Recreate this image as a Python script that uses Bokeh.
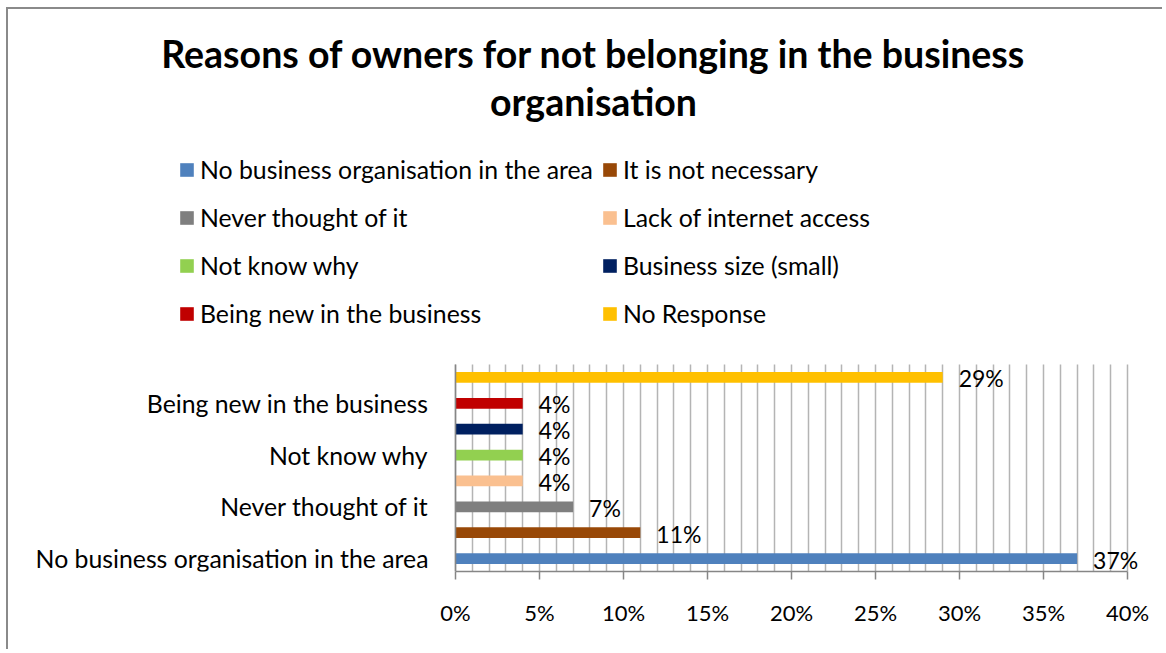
from bokeh.plotting import figure
from bokeh.models import (ColumnDataSource, Range1d, FixedTicker, PrintfTickFormatter,
                          Label, LabelSet, Legend, LegendItem, Grid)
from bokeh.core.properties import value
from bokeh.embed import file_html
from bokeh.resources import INLINE

# ---- data ----
title_lines = ["Reasons of owners for not belonging in the business", "organisation"]
categories = ["No business organisation in the area", "It is not necessary",
              "Never thought of it", "Lack of internet access", "Not know why",
              "Business size (small)", "Being new in the business", "No Response"]
values = [37, 11, 7, 4, 4, 4, 4, 29]
colors = ["#4F81BD", "#984807", "#7F7F7F", "#FAC090", "#92D050",
          "#002060", "#C00000", "#FFC000"]
x_ticks = [0, 5, 10, 15, 20, 25, 30, 35, 40]
grid_ticks = list(range(0, 41))
labeled_idx = [0, 2, 4, 6]

# ---- layout (pixels) ----
FONT = "Lato"
W, H = 1156, 642            # canvas; its top-left lands at page (8, 9)
B = 80                      # space below the plot area for the x axis
PLOT_LEFT = 447             # x of 0 % in canvas pixels
PX_PER_PCT = 16.8
SLOT = 25.875               # pixels per category
n = len(categories)

x_start = -PLOT_LEFT / PX_PER_PCT
x_end = x_start + W / PX_PER_PCT
frame_h = H - B
y_start = -0.5
y_end = y_start + frame_h / SLOT

p = figure(width=W, height=H, output_backend="svg", toolbar_location=None,
           x_range=Range1d(x_start, x_end), y_range=Range1d(y_start, y_end),
           min_border_left=0, min_border_right=0, min_border_top=0, min_border_bottom=B,
           outline_line_color=None,
           styles={"border-top": "2px solid #8a8a8a", "border-left": "2px solid #8a8a8a",
                   "margin-left": "6px", "margin-top": "7px"})
p.title.visible = False

src = ColumnDataSource(dict(
    y=list(range(n)), v=values, color=colors, cat=categories,
    lbl=[f"{v}%" for v in values]))

# grid (restricted to the bar area)
if "cross_bounds" in Grid.properties():
    p.xgrid.ticker = FixedTicker(ticks=grid_ticks)
    p.xgrid.cross_bounds = (-0.5, n - 0.5)
    p.xgrid.grid_line_color = "#b4b4b4"
    p.xgrid.grid_line_width = 1.5
else:
    p.xgrid.grid_line_color = None
    p.segment(x0=grid_ticks, x1=grid_ticks, y0=-0.5, y1=n - 0.5,
              line_color="#b4b4b4", line_width=1.5)
p.ygrid.grid_line_color = None

items = []
for i, c in enumerate(categories):
    r = p.hbar(y=i, right=values[i], left=0, height=0.42, color=colors[i], line_color=None)
    items.append(LegendItem(label=c, renderers=[r]))

labels = LabelSet(x="v", y="y", text="lbl", source=src, x_offset=16, y_offset=-1,
                  text_baseline="middle", text_font=value(FONT),
                  text_font_size="23px", text_color="black")
p.add_layout(labels)

# x axis
p.xaxis.bounds = (x_ticks[0], x_ticks[-1])
p.xaxis.ticker = FixedTicker(ticks=x_ticks)
p.xaxis.formatter = PrintfTickFormatter(format="%d%%")
p.xaxis.axis_line_color = "#868686"
p.xaxis.axis_line_width = 1.5
p.xaxis.major_tick_line_color = "#868686"
p.xaxis.major_tick_line_width = 1.5
p.xaxis.major_tick_out = 8
p.xaxis.major_tick_in = 0
p.xaxis.minor_tick_line_color = None
p.xaxis.major_label_standoff = 19
p.xaxis.major_label_text_font = FONT
p.xaxis.major_label_text_font_size = "22px"
p.xaxis.major_label_text_color = "black"

# y axis drawn at 0 %
p.yaxis.fixed_location = 0
p.yaxis.bounds = (-0.5, n - 0.5)
p.yaxis.ticker = FixedTicker(ticks=labeled_idx)
p.yaxis.major_label_overrides = {i: categories[i] for i in labeled_idx}
p.yaxis.axis_line_color = "#868686"
p.yaxis.axis_line_width = 1.5
p.yaxis.major_tick_line_color = None
p.yaxis.minor_tick_line_color = None
p.yaxis.major_tick_out = 0
p.yaxis.major_label_standoff = 27
p.yaxis.major_label_text_font = FONT
p.yaxis.major_label_text_font_size = "24.8px"
p.yaxis.major_label_text_color = "black"

# legend (location = bottom-left corner, pixels from the plot area's bottom-left, y up)
legend = Legend(items=items, ncols=2, orientation="horizontal", location=(170, 238),
                padding=0, margin=0, spacing=8, label_height=40, glyph_height=17,
                glyph_width=17, label_standoff=5, border_line_color=None,
                background_fill_alpha=0, label_text_font=FONT,
                label_text_font_size="24.8px", label_text_color="black")
p.add_layout(legend)

# title, two centred lines
for txt, yy in zip(title_lines, [frame_h - 44, frame_h - 92]):
    p.add_layout(Label(x=585, y=yy, x_units="screen", y_units="screen", text=txt,
                       text_align="center", text_baseline="middle", text_font=FONT,
                       text_font_size="37.5px", text_font_style="bold", text_color="black"))

open("out.html", "w").write(file_html(p, INLINE))
